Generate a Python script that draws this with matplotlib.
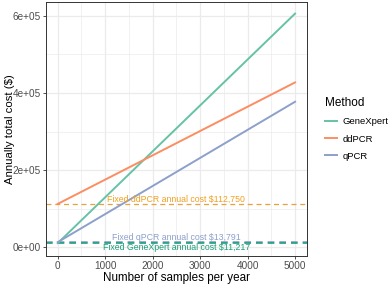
import matplotlib.pyplot as plt
from matplotlib.lines import Line2D

plt.rcParams['font.family'] = ['Liberation Sans', 'DejaVu Sans']

# data
methods = ['GeneXpert', 'ddPCR', 'qPCR']
samples = [0, 5000]
genexpert_cost = [11217, 605000]
ddpcr_cost = [112750, 427000]
qpcr_cost = [13791, 377000]
fixed_costs = [11217, 112750, 13791]
fixed_labels = ['Fixed GeneXpert annual cost $11,217',
                'Fixed ddPCR annual cost $112,750',
                'Fixed qPCR annual cost $13,791']
x_ticks = [0, 1000, 2000, 3000, 4000, 5000]
y_ticks = [0, 200000, 400000, 600000]
y_ticklabels = ['0e+00', '2e+05', '4e+05', '6e+05']

line_colors = ['#66C2A5', '#FC8D62', '#8DA0CB']
fixed_line_colors = ['#1B9E77', '#E9A23B', '#8DA0CB']
fixed_text_colors = ['#1B9E77', '#F0A020', '#8DA0CB']

fig = plt.figure(figsize=(3.92, 2.87), dpi=100)
ax = fig.add_axes([0.117, 0.108, 0.666, 0.885])

# grid like theme_bw
for v in range(0, 5001, 500):
    ax.axvline(v, color='#EBEBEB', lw=0.9 if v % 1000 == 0 else 0.5, zorder=0)
for v in range(0, 600001, 100000):
    ax.axhline(v, color='#EBEBEB', lw=0.9 if v % 200000 == 0 else 0.5, zorder=0)

# fixed cost dashed lines (qPCR then GeneXpert on top)
ax.axhline(fixed_costs[1], color=fixed_line_colors[1], lw=0.9, ls=(0, (4, 3)), zorder=2)
ax.axhline(fixed_costs[2], color=fixed_line_colors[2], lw=1.2, ls=(0, (4, 3)), zorder=2)
ax.axhline(fixed_costs[0], color=fixed_line_colors[0], lw=1.2, ls=(0, (4, 3)), zorder=2)

ax.plot(samples, genexpert_cost, color=line_colors[0], lw=1.4, zorder=3)
ax.plot(samples, ddpcr_cost, color=line_colors[1], lw=1.4, zorder=3)
ax.plot(samples, qpcr_cost, color=line_colors[2], lw=1.4, zorder=3)

# annotations
ax.text(2500, fixed_costs[1], fixed_labels[1], color=fixed_text_colors[1],
        fontsize=6.3, ha='center', va='bottom', zorder=4)
ax.text(2500, fixed_costs[2], fixed_labels[2], color=fixed_text_colors[2],
        fontsize=6.3, ha='center', va='bottom', zorder=4)
ax.text(2500, fixed_costs[0], fixed_labels[0], color=fixed_text_colors[0],
        fontsize=6.3, ha='center', va='top', zorder=4)

ax.set_xlim(-250, 5250)
ax.set_ylim(-22000, 635000)
ax.set_xticks(x_ticks)
ax.set_yticks(y_ticks)
ax.set_yticklabels(y_ticklabels)
ax.tick_params(labelsize=7.2, colors='#333333', length=2.2, width=0.6,
               labelcolor='#4D4D4D', pad=1.2)
for s in ax.spines.values():
    s.set_color('#333333')
    s.set_linewidth(0.7)

ax.set_xlabel('Number of samples per year', fontsize=8.4, labelpad=1)
ax.set_ylabel('Annually total cost ($)', fontsize=8.2)
ax.yaxis.set_label_coords(-0.118, 0.5)

handles = [Line2D([], [], color=c, lw=1.4) for c in line_colors]
leg = fig.legend(handles, methods, title='Method', loc='upper left',
                 bbox_to_anchor=(0.807, 0.69), frameon=False, fontsize=6.8,
                 title_fontsize=8.5, handlelength=1.3, labelspacing=0.85,
                 handletextpad=0.6, alignment='left')

fig.savefig('out.png', dpi=100)
